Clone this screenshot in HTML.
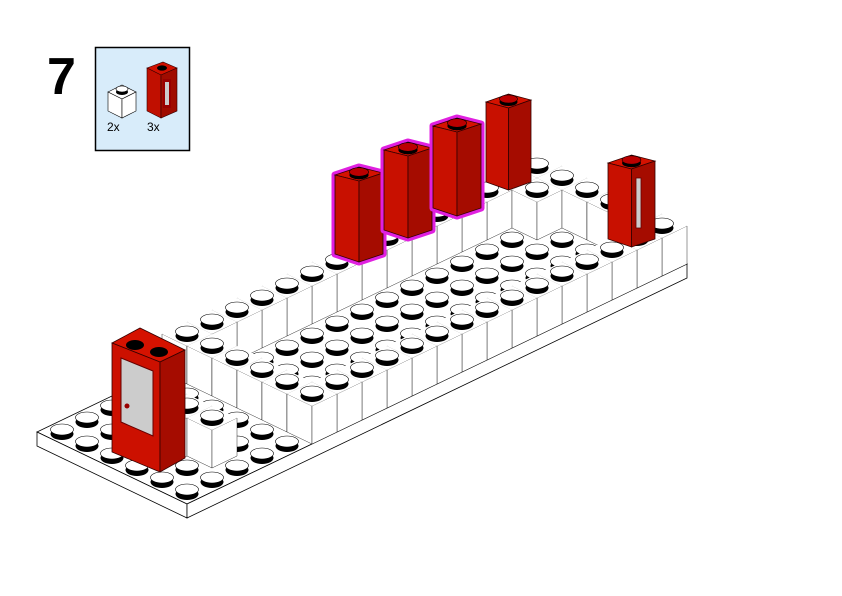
<!DOCTYPE html>
<html><head><meta charset="utf-8"><style>
html,body{margin:0;padding:0;background:#fff;}
svg{display:block}
text{font-family:"Liberation Sans",sans-serif}
</style></head><body>
<svg id="s" width="842" height="596" viewBox="0 0 842 596" xmlns="http://www.w3.org/2000/svg">
<text x="47" y="94" font-size="52" font-weight="bold" fill="#000">7</text>
<rect x="95.5" y="47.5" width="94" height="103" fill="#d8ecfa" stroke="#000" stroke-width="1.5"/>
<polygon points="108,92 122,85 136,92 122,99" fill="#fff" stroke="#000" stroke-width="0.6"/>
<polygon points="108,92 122,99 122,118 108,111" fill="#fff" stroke="#000" stroke-width="0.6"/>
<polygon points="122,99 136,92 136,111 122,118" fill="#fff" stroke="#000" stroke-width="0.6"/>
<ellipse cx="122" cy="92" rx="6" ry="3" fill="#000"/>
<ellipse cx="122" cy="89" rx="6" ry="3" fill="#fff" stroke="#000" stroke-width="0.6"/>
<polygon points="147,68 163,62 177,68 161,75" fill="#d01000" stroke="#300" stroke-width="0.6"/>
<polygon points="147,68 161,75 161,118 147,111" fill="#c00f00" stroke="#300" stroke-width="0.6"/>
<polygon points="161,75 177,68 177,111 161,118" fill="#a00c00" stroke="#300" stroke-width="0.6"/>
<rect x="163" y="79" width="8" height="29" fill="#900" />
<rect x="165" y="82" width="4" height="23" fill="#ccc"/>
<ellipse cx="162" cy="68" rx="5" ry="2.6" fill="#000"/>
<text x="107" y="131" font-size="12" fill="#000">2x</text>
<text x="147" y="131" font-size="12" fill="#000">3x</text>
<g id="g"></g>
</svg>
<script>
var g=document.getElementById('g'),NS="http://www.w3.org/2000/svg";
function el(t,a){var e=document.createElementNS(NS,t);for(var k in a)e.setAttribute(k,a[k]);g.appendChild(e);return e;}
function C(i,j,h){return [62+25*i+25*j,432-12*i+12*j-h];}
function pt(p){return p[0].toFixed(1)+","+p[1].toFixed(1);}
var A=[37,432],B=[187,504],R=[687,264],T=[537,192],th=14;
el('polygon',{points:[A,B,R,T].map(pt).join(' '),fill:'#fff',stroke:'#000','stroke-width':0.8});
el('polygon',{points:[A,B,[B[0],B[1]+th],[A[0],A[1]+th]].map(pt).join(' '),fill:'#fff',stroke:'#000','stroke-width':0.8});
el('polygon',{points:[B,R,[R[0],R[1]+th],[B[0],B[1]+th]].map(pt).join(' '),fill:'#fff',stroke:'#000','stroke-width':0.8});
function H(i,j){
 if(j==0&&i>=5)return 38;
 if(i==19)return 38;
 if(j==5&&i>=6)return 38;
 if(i==5&&j<=5)return 38;
 if(i==2&&j>=2&&j<=4)return 38;
 if(i==1&&j==3)return 38;
 if(i==18&&j==1)return 38;
 return 0;
}
var cells=[];
for(var i=0;i<20;i++)for(var j=0;j<6;j++)cells.push([i,j]);
cells.sort(function(p,q){return (p[1]-p[0])-(q[1]-q[0])||(p[1]-q[1]);});
cells.forEach(function(c){
 var i=c[0],j=c[1],h=H(i,j),P=C(i,j,h);
 if(h>0){
  var t=[P[0]-25,P[1]],r=[P[0],P[1]-12],f=[P[0]+25,P[1]],b=[P[0],P[1]+12];
  el('polygon',{points:[t,b,[b[0],b[1]+h],[t[0],t[1]+h]].map(pt).join(' '),fill:'#fff',stroke:'#000','stroke-width':0.4});
  el('polygon',{points:[b,f,[f[0],f[1]+h],[b[0],b[1]+h]].map(pt).join(' '),fill:'#fff',stroke:'#000','stroke-width':0.4});
  el('polygon',{points:[t,r,f,b].map(pt).join(' '),fill:'#fff'});
 }
 el('ellipse',{cx:P[0],cy:P[1]+2,rx:11.5,ry:6,fill:'#000'});
 el('ellipse',{cx:P[0],cy:P[1]-2.5,rx:11.5,ry:5.5,fill:'#fff',stroke:'#000','stroke-width':0.6});
});
function door(x,y,w,hh,mag){
 var hull=[[x,y+8],[x+w*0.5,y],[x+w,y+6],[x+w,y+hh-8],[x+w*0.5,y+hh],[x,y+hh-8]];
 if(mag)el('polygon',{points:hull.map(pt).join(' '),fill:'none',stroke:'#e020e0','stroke-width':7,'stroke-linejoin':'round'});
 el('polygon',{points:[[x,y+8],[x+w*0.5,y],[x+w,y+6],[x+w*0.5,y+14]].map(pt).join(' '),fill:'#d51200',stroke:'#300','stroke-width':0.8});
 el('polygon',{points:[[x,y+8],[x+w*0.5,y+14],[x+w*0.5,y+hh],[x,y+hh-8]].map(pt).join(' '),fill:'#c81000',stroke:'#300','stroke-width':0.8});
 el('polygon',{points:[[x+w*0.5,y+14],[x+w,y+6],[x+w,y+hh-8],[x+w*0.5,y+hh]].map(pt).join(' '),fill:'#a50c00',stroke:'#300','stroke-width':0.8});
 el('ellipse',{cx:x+w*0.5,cy:y+8,rx:w*0.2,ry:w*0.09,fill:'#000'});
 el('ellipse',{cx:x+w*0.5,cy:y+5,rx:w*0.2,ry:w*0.09,fill:'#b00',stroke:'#000','stroke-width':0.6});
}
door(335,167,48,95,true);
door(384,142,48,96,true);
door(433,118,48,98,true);
door(486,94,45,96,false);
door(608,155,47,92,false);
el('rect',{x:636,y:178,width:5,height:50,fill:'#ccc',stroke:'#600','stroke-width':0.8});
el('polygon',{points:"112,343 140,328 185,350 160,362",fill:'#d51200',stroke:'#300','stroke-width':0.8});
el('polygon',{points:"112,343 160,362 160,472 112,452",fill:'#cc1000',stroke:'#300','stroke-width':0.8});
el('polygon',{points:"160,362 185,350 185,458 160,472",fill:'#a50c00',stroke:'#300','stroke-width':0.8});
el('polygon',{points:"121,358 153,371 153,436 121,422",fill:'#ccc',stroke:'#600','stroke-width':1});
el('circle',{cx:127,cy:406,r:2.5,fill:'#900'});
el('ellipse',{cx:135,cy:345,rx:9,ry:5,fill:'#000'});
el('ellipse',{cx:159,cy:352,rx:9,ry:5,fill:'#000'});
</script>
</body></html>
